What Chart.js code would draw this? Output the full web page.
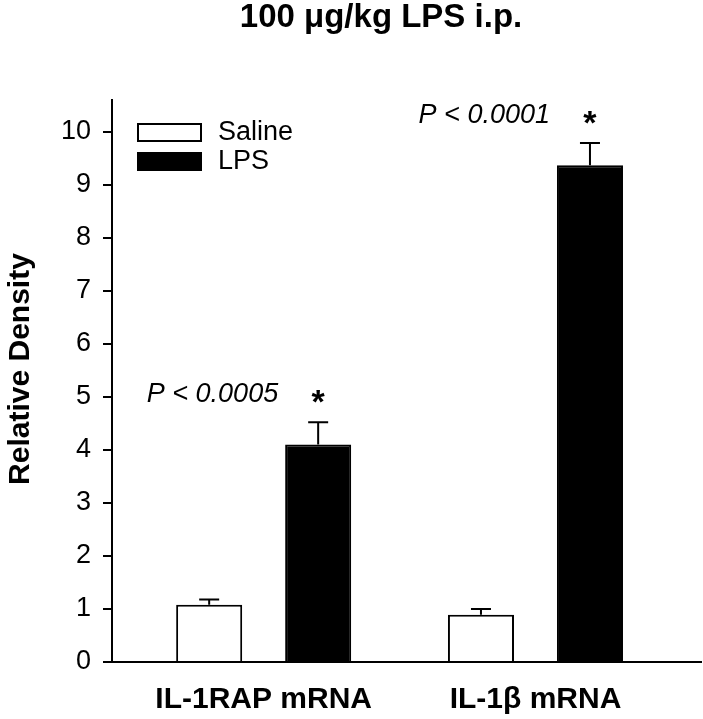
<!DOCTYPE html>
<html>
<head>
<meta charset="utf-8">
<script src="https://cdn.jsdelivr.net/npm/chart.js@4"></script>
<style>
  body { margin: 0; background: #fff; }
  #wrap { width: 703px; height: 719px; position: relative; }
</style>
</head>
<body>
<div id="wrap"><canvas id="densitychart"></canvas></div>
<script>
var categories = ['IL-1RAP mRNA', 'IL-1\u03B2 mRNA'];
var seriesNames = ['Saline', 'LPS'];
var salineMeans = [1.08, 0.89];
var salineErrors = [0.10, 0.11];
var lpsMeans = [4.10, 9.37];
var lpsErrors = [0.42, 0.42];
var pLabels = ['P < 0.0005', 'P < 0.0001'];
var yTicks = [0, 1, 2, 3, 4, 5, 6, 7, 8, 9, 10];

var FONT = '"Liberation Sans", Arial, sans-serif';

function points(values) {
    return categories.map(function (c, i) { return { x: i, y: values[i] }; });
}

// error bars (upper only) + significance labels
var extrasPlugin = {
    id: 'extras',
    afterDatasetsDraw: function (chart) {
        var c = chart.ctx;
        var yScale = chart.scales.y;
        var errs = [salineErrors, lpsErrors];
        var means = [salineMeans, lpsMeans];
        c.save();
        c.strokeStyle = '#000';
        c.lineWidth = 2;
        chart.data.datasets.forEach(function (ds, d) {
            chart.getDatasetMeta(d).data.forEach(function (bar, i) {
                var top = yScale.getPixelForValue(means[d][i] + errs[d][i]);
                c.beginPath();
                c.moveTo(bar.x, bar.y);
                c.lineTo(bar.x, top);
                c.moveTo(bar.x - 10, top);
                c.lineTo(bar.x + 10, top);
                c.stroke();
            });
        });
        // P values and stars above the LPS bars
        chart.getDatasetMeta(1).data.forEach(function (bar, i) {
            var top = yScale.getPixelForValue(lpsMeans[i] + lpsErrors[i]);
            c.fillStyle = '#000';
            c.textBaseline = 'alphabetic';
            c.font = 'italic 27px ' + FONT;
            c.textAlign = 'right';
            c.fillText(pLabels[i], bar.x - 40, top - 20);
            c.font = 'bold 34px ' + FONT;
            c.textAlign = 'center';
            c.fillText('*', bar.x, top - 9);
        });
        c.restore();
    },
    afterDraw: function (chart) {
        var c = chart.ctx;
        c.save();
        c.fillStyle = '#000';
        // title
        c.font = 'bold 33px ' + FONT;
        c.textAlign = 'center';
        c.textBaseline = 'alphabetic';
        c.fillText('100 \u03BCg/kg LPS i.p.', 381, 27);
        // y axis title, sits a bit above the middle of the axis
        c.save();
        c.translate(29, 369);
        c.rotate(-Math.PI / 2);
        c.font = 'bold 30px ' + FONT;
        c.fillText('Relative Density', 0, 0);
        c.restore();
        // legend
        c.lineWidth = 2;
        c.strokeStyle = '#000';
        c.textAlign = 'left';
        c.textBaseline = 'middle';
        c.font = '27px ' + FONT;
        chart.data.datasets.forEach(function (ds, d) {
            var y = 123 + d * 29;
            c.fillStyle = ds.backgroundColor;
            c.fillRect(137, y, 65, 19);
            c.strokeRect(138, y + 1, 63, 17);
            c.fillStyle = '#000';
            c.fillText(ds.label, 218, y + 10);
        });
        c.restore();
    }
};

var ctx = document.getElementById('densitychart').getContext('2d');

var myChart = new Chart(ctx, {
    type: 'bar',
    data: {
        datasets: [
            {
                label: seriesNames[0],
                data: points(salineMeans),
                backgroundColor: '#ffffff',
                borderColor: '#000000',
                borderWidth: 2,
            },
            {
                label: seriesNames[1],
                data: points(lpsMeans),
                backgroundColor: '#000000',
                borderColor: '#000000',
                borderWidth: 2,
            },
        ]
    },
    plugins: [extrasPlugin],
    options: {
        responsive: true,
        maintainAspectRatio: false,
        devicePixelRatio: 1,
        animation: false,
        categoryPercentage: 0.802,
        barPercentage: 0.606,
        layout: {
            padding: { top: 100, right: 2, bottom: 2, left: 0 }
        },
        scales: {
            x: {
                type: 'linear',
                offset: false,
                min: -0.558,
                max: 1.609,
                afterFit: function (scale) { scale.height = 55; },
                grid: { display: false, drawTicks: false, offset: false },
                border: { color: '#000', width: 2 },
                ticks: {
                    stepSize: 1,
                    includeBounds: false,
                    maxRotation: 0,
                    autoSkip: false,
                    padding: 20,
                    color: '#000',
                    font: { family: FONT, size: 30, weight: 'bold' },
                    callback: function (val) {
                        return categories[val] !== undefined ? categories[val] : '';
                    }
                }
            },
            y: {
                min: 0,
                max: 10.6,
                afterFit: function (scale) { scale.width = 112; },
                grid: {
                    drawOnChartArea: false,
                    tickLength: 9,
                    color: '#000',
                    lineWidth: 2
                },
                border: { color: '#000', width: 2 },
                ticks: {
                    stepSize: 1,
                    includeBounds: false,
                    padding: 12,
                    color: '#000',
                    font: { family: FONT, size: 27 },
                    callback: function (val) {
                        return yTicks.indexOf(val) >= 0 ? val : '';
                    }
                }
            }
        },
        plugins: {
            legend: { display: false },
            tooltip: { enabled: false }
        }
    }
});
</script>
</body>
</html>
